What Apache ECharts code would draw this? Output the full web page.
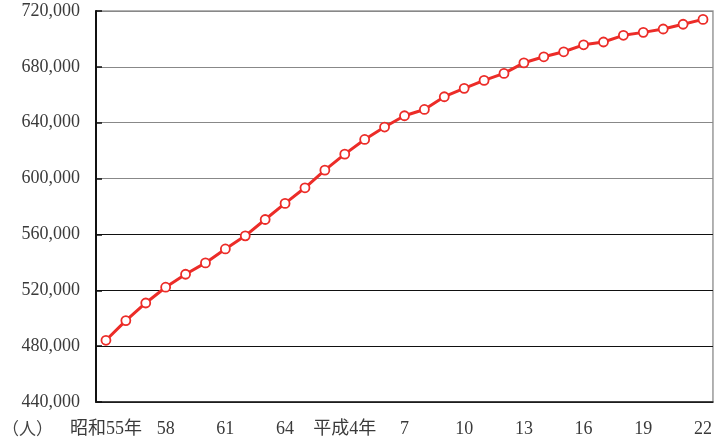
<!DOCTYPE html>
<html>
<head>
<meta charset="utf-8">
<script src="https://cdn.jsdelivr.net/npm/echarts@6/dist/echarts.min.js"></script>
<style>
  html, body { margin: 0; padding: 0; background: #fff; }
  #chart { width: 715px; height: 441px; }
</style>
</head>
<body>
<div id="chart"></div>
<script>
// Years: 昭和55年 (1980) to 平成22年 (2010)
const years = ['昭和55年', '56', '57', '58', '59', '60', '61', '62', '63', '64',
  '2', '3', '平成4年', '5', '6', '7', '8', '9', '10', '11', '12',
  '13', '14', '15', '16', '17', '18', '19', '20', '21', '22'];

// Population (人)
const population = [484200, 498300, 510900, 522200, 531500, 539600, 549600, 559000, 570700, 582200,
  593400, 606000, 617500, 628000, 636900, 645000, 649500, 658600, 664600, 670300,
  675300, 682900, 687200, 690800, 695800, 697800, 702600, 704700, 707100, 710500, 714000];

const yTicks = { min: 440000, max: 720000, step: 40000 };
const unitLabel = '（人）';

const serif = '"Liberation Serif", "DejaVu Serif", "Noto Sans CJK JP", serif';

const chart = echarts.init(document.getElementById('chart'));
chart.setOption({
  animation: false,
  grid: {
    left: 96, right: 2, top: 11, bottom: 39,
    show: true, borderColor: '#999', borderWidth: 1.5
  },
  graphic: [{
    type: 'text',
    left: 2, top: 422,
    style: { text: unitLabel, fontSize: 17, fontFamily: serif, fill: '#444' }
  }],
  xAxis: {
    type: 'category',
    data: years,
    boundaryGap: true,
    axisLine: { lineStyle: { color: '#222', width: 1.5 } },
    axisTick: { interval: 2, inside: true, length: 7, lineStyle: { color: '#333' } },
    axisLabel: { interval: 2, fontSize: 18, fontFamily: serif, color: '#3a3a3a', margin: 18 },
    splitLine: { show: false }
  },
  yAxis: {
    type: 'value',
    min: yTicks.min, max: yTicks.max, interval: yTicks.step,
    axisLine: { show: true, lineStyle: { color: '#111', width: 2 } },
    axisTick: { show: true, inside: true, length: 6, lineStyle: { color: '#111', width: 1.5 } },
    axisLabel: {
      fontSize: 18, fontFamily: serif, color: '#3a3a3a', margin: 16,
      formatter: v => v.toLocaleString('en-US')
    },
    splitLine: {
      lineStyle: {
        width: 1.2,
        color: ['#111', '#111', '#111', '#111', '#888', '#888', '#888', '#888']
      }
    }
  },
  series: [{
    type: 'line',
    data: population,
    symbol: 'circle',
    symbolSize: 9,
    showAllSymbol: true,
    lineStyle: { color: '#ec2c28', width: 3 },
    itemStyle: { color: '#fff', borderColor: '#ec2c28', borderWidth: 1.8 }
  }]
});
</script>
</body>
</html>
